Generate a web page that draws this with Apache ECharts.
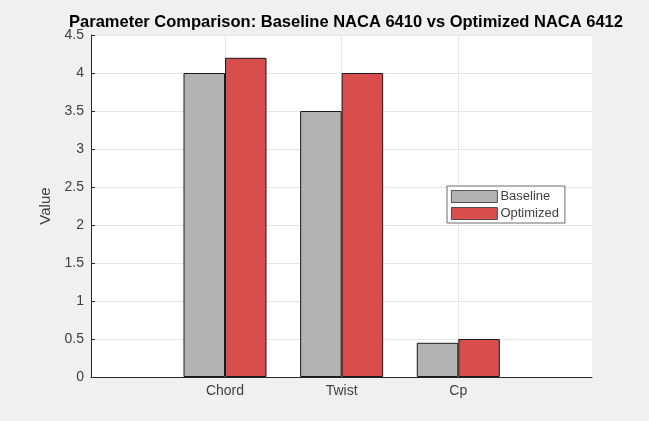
<!DOCTYPE html>
<html>
<head>
<meta charset="utf-8">
<script src="https://cdn.jsdelivr.net/npm/echarts@6/dist/echarts.min.js"></script>
<style>
html,body{margin:0;padding:0;background:#f0f0f0;}
#c{width:649px;height:421px;}
</style>
</head>
<body>
<div id="c"></div>
<script>
const categories = ['Chord', 'Twist', 'Cp'];
const baseline = [4.0, 3.5, 0.45];
const optimized = [4.2, 4.0, 0.5];
const seriesNames = ['Baseline', 'Optimized'];
const yMin = 0, yMax = 4.5, yStep = 0.5;
const titleText = 'Parameter Comparison: Baseline NACA 6410 vs Optimized NACA 6412';
const yName = 'Value';

const chart = echarts.init(document.getElementById('c'), null, {renderer: 'canvas'});
const font = 'Liberation Sans, Arial, Helvetica, sans-serif';
const textCol = '#404040';
const gridCol = '#e6e6e6';

const option = {
  backgroundColor: '#f0f0f0',
  animation: false,
  title: {
    text: titleText,
    left: 341, top: 9, textAlign: 'center',
    textStyle: {fontFamily: font, fontWeight: 'bold', fontSize: 16.5, color: '#000'}
  },
  legend: {
    orient: 'vertical',
    left: 447, top: 186,
    icon: 'rect',
    itemWidth: 46, itemHeight: 12, itemGap: 4,
    padding: [4, 6, 3, 4],
    backgroundColor: '#fff',
    borderColor: '#6b6b6b', borderWidth: 1,
    itemStyle: {borderColor: '#333', borderWidth: 0.8},
    textStyle: {fontFamily: font, fontSize: 13, color: textCol, padding: [0, 0, 0, -2]},
    data: seriesNames
  },
  grid: [
    {left: 91, right: 57, top: 35, bottom: 44, show: true, backgroundColor: '#fff', borderWidth: 0},
    {left: 225, right: 649 - 458.3, top: 35, bottom: 44}
  ],
  xAxis: [
    {gridIndex: 0, type: 'value', min: 0, max: 1, axisLabel: {show: false}, axisTick: {show: false},
     splitLine: {show: false}, axisLine: {show: true, lineStyle: {color: '#262626', width: 1}}},
    {gridIndex: 1, type: 'category', data: categories, boundaryGap: false,
     axisLine: {show: false}, axisTick: {show: false},
     axisLabel: {fontFamily: font, fontSize: 14, color: textCol, margin: 7},
     splitLine: {show: true, lineStyle: {color: gridCol, width: 1}}}
  ],
  yAxis: [
    {gridIndex: 0, type: 'value', min: yMin, max: yMax, interval: yStep,
     name: yName, nameLocation: 'middle', nameGap: 37, nameRotate: 90,
     nameTextStyle: {fontFamily: font, fontSize: 15, color: textCol},
     axisLine: {show: true, lineStyle: {color: '#262626', width: 1}},
     axisTick: {show: true, inside: true, length: 4, lineStyle: {color: '#262626'}},
     axisLabel: {fontFamily: font, fontSize: 14, color: textCol, margin: 7},
     splitLine: {show: true, lineStyle: {color: gridCol, width: 1}}},
    {gridIndex: 1, type: 'value', min: yMin, max: yMax, interval: yStep, show: false,
     splitLine: {show: false}}
  ],
  series: [
    {name: seriesNames[0], type: 'bar', xAxisIndex: 1, yAxisIndex: 1, data: baseline,
     barWidth: 41.5, barGap: '0%', clip: false,
     itemStyle: {color: '#b3b3b3', borderColor: '#1a1a1a', borderWidth: 1}},
    {name: seriesNames[1], type: 'bar', xAxisIndex: 1, yAxisIndex: 1, data: optimized,
     barWidth: 41.5, barGap: '0%', clip: false,
     itemStyle: {color: '#d94d4d', borderColor: '#1a1a1a', borderWidth: 1}}
  ]
};
chart.setOption(option);
</script>
</body>
</html>
